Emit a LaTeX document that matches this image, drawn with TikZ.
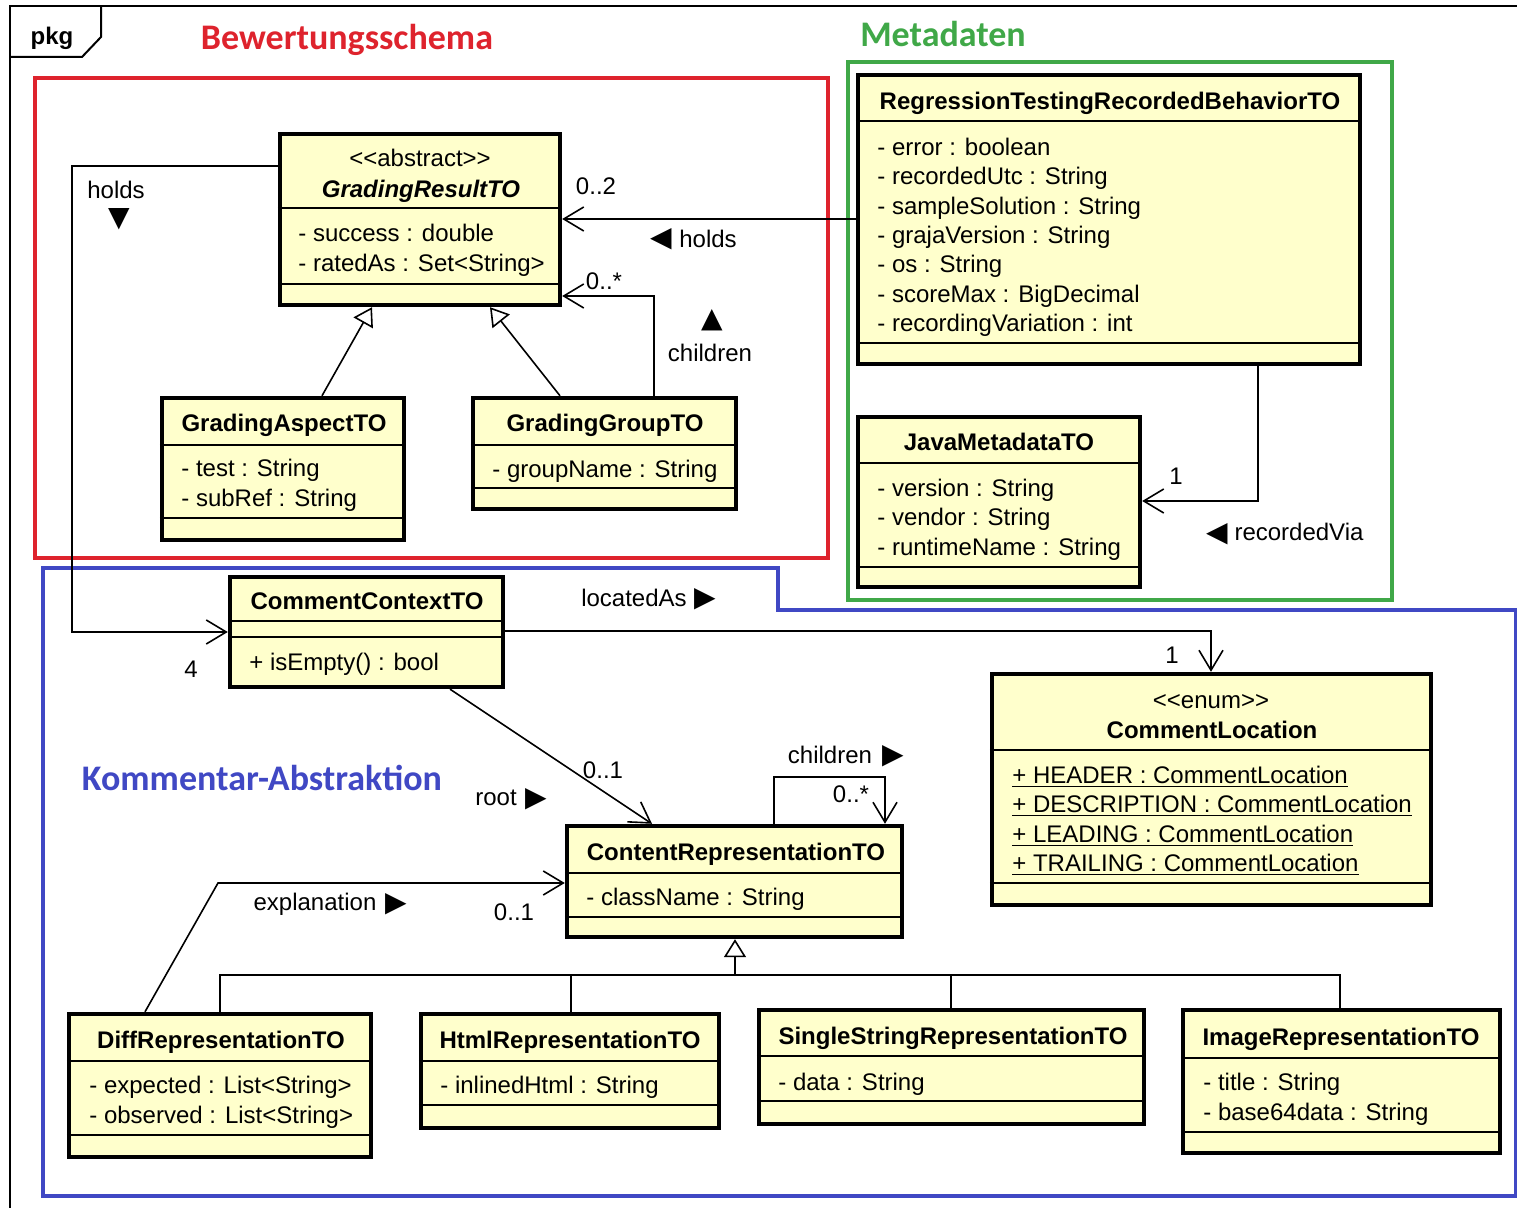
\documentclass[tikz,border=0pt]{standalone}
\usepackage{fontspec}
\setmainfont{Liberation Sans}
\newfontfamily\titlefont{Carlito}
\newfontfamily\symf{DejaVu Sans}
\usetikzlibrary{arrows.meta, fit, calc}

\definecolor{clsfill}{RGB}{255,255,204}
\definecolor{schemared}{RGB}{222,35,45}
\definecolor{metagreen}{RGB}{64,168,72}
\definecolor{kommblue}{RGB}{64,72,196}

\tikzset{
  cls/.style={draw, line width=2.2pt, fill=clsfill, inner sep=0pt},
  sepline/.style={line width=0.8pt},
  attr/.style={anchor=west, inner sep=0pt, text height=8.6pt, text depth=0pt, font=\fontsize{12}{14}\selectfont},
  lbl/.style={inner sep=0pt, text height=8.6pt, text depth=0pt, font=\fontsize{12}{14}\selectfont},
  cname/.style={lbl, font=\fontsize{12}{14}\selectfont\bfseries},
  cnamei/.style={lbl, font=\fontsize{12}{14}\selectfont\bfseries\itshape},
  tri/.style={inner sep=0pt, text height=10pt, text depth=0pt, font=\fontsize{14}{14}\selectfont\symf},
  assoc/.style={line width=0.8pt, -{Straight Barb[length=10pt,width=12pt]}},
  gen/.style={line width=0.8pt, -{Triangle[open,length=9pt,width=11pt,fill=white]}},
  genline/.style={line width=0.8pt},
  grouptitle/.style={inner sep=0pt, font=\fontsize{18}{20}\selectfont\titlefont\bfseries},
}

\begin{document}
\begin{tikzpicture}[x=0.5pt, y=-0.5pt]
      \useasboundingbox (0,0) rectangle (1517,1208);

      % package frame
      \draw[line width=1pt] (10,1208) -- (10,6) -- (1517,6);
      \draw[line width=1pt] (10,57) -- (82,57) -- (101,37) -- (101,6);
      \node[cname] (pkg) at (52,36) {pkg};

      % groups
      \draw[schemared, line width=2pt] (35,78) rectangle (828,558);
      \draw[metagreen, line width=2pt] (848,62) rectangle (1392,600);
      \draw[kommblue, line width=2pt] (43,568) -- (778,568) -- (778,610) -- (1516,610) -- (1516,1196) -- (43,1196) -- cycle;
      \node[grouptitle, text=schemared] (tschema) at (347,40) {Bewertungsschema};
      \node[grouptitle, text=metagreen] (tmeta) at (943,34) {Metadaten};
      \node[grouptitle, text=kommblue] (tkomm) at (262,778) {Kommentar-Abstraktion};

      % GradingResultTO
      \node[cls, fit={(280,134) (560,305)}] (gr) {};
      \draw[sepline] (gr.west |- 0,208) -- (gr.east |- 0,208);
      \draw[sepline] (gr.west |- 0,284) -- (gr.east |- 0,284);
      \node[lbl] (gr-st) at (420,158) {<{}<abstract>{}>};
      \node[cnamei] (gr-n) at (421,189) {GradingResultTO};
      \node[attr] (gr-a1) at (298,233) {- success : double};
      \node[attr] (gr-a2) at (298,263) {- ratedAs : Set<String>};

      % GradingAspectTO
      \node[cls, fit={(162,398) (404,540)}] (ga) {};
      \draw[sepline] (ga.west |- 0,445) -- (ga.east |- 0,445);
      \draw[sepline] (ga.west |- 0,518) -- (ga.east |- 0,518);
      \node[cname] (ga-n) at (284,423) {GradingAspectTO};
      \node[attr] (ga-a1) at (181,468) {- test : String};
      \node[attr] (ga-a2) at (181,498) {- subRef : String};

      % GradingGroupTO
      \node[cls, fit={(473,398) (736,509)}] (gg) {};
      \draw[sepline] (gg.west |- 0,445) -- (gg.east |- 0,445);
      \draw[sepline] (gg.west |- 0,488) -- (gg.east |- 0,488);
      \node[cname] (gg-n) at (605,423) {GradingGroupTO};
      \node[attr] (gg-a1) at (492,469) {- groupName : String};

      % RegressionTestingRecordedBehaviorTO
      \node[cls, fit={(858,75) (1360,364)}] (rt) {};
      \draw[sepline] (rt.west |- 0,121) -- (rt.east |- 0,121);
      \draw[sepline] (rt.west |- 0,343) -- (rt.east |- 0,343);
      \node[cname] (rt-n) at (1110,101) {RegressionTestingRecordedBehaviorTO};
      \node[attr] (rt-a1) at (877,147) {- error : boolean};
      \node[attr] (rt-a2) at (877,176) {- recordedUtc : String};
      \node[attr] (rt-a3) at (877,206) {- sampleSolution : String};
      \node[attr] (rt-a4) at (877,235) {- grajaVersion : String};
      \node[attr] (rt-a5) at (877,264) {- os : String};
      \node[attr] (rt-a6) at (877,294) {- scoreMax : BigDecimal};
      \node[attr] (rt-a7) at (877,323) {- recordingVariation : int};

      % JavaMetadataTO
      \node[cls, fit={(858,417) (1140,587)}] (jm) {};
      \draw[sepline] (jm.west |- 0,463) -- (jm.east |- 0,463);
      \draw[sepline] (jm.west |- 0,567) -- (jm.east |- 0,567);
      \node[cname] (jm-n) at (999,442) {JavaMetadataTO};
      \node[attr] (jm-a1) at (877,488) {- version : String};
      \node[attr] (jm-a2) at (877,517) {- vendor : String};
      \node[attr] (jm-a3) at (877,547) {- runtimeName : String};

      % CommentContextTO
      \node[cls, fit={(230,577) (503,687)}] (cc) {};
      \draw[sepline] (cc.west |- 0,621) -- (cc.east |- 0,621);
      \draw[sepline] (cc.west |- 0,637) -- (cc.east |- 0,637);
      \node[cname] (cc-n) at (367,601) {CommentContextTO};
      \node[attr] (cc-m1) at (249,662) {+ isEmpty() : bool};

      % CommentLocation
      \node[cls, fit={(992,674) (1431,905)}] (cl) {};
      \draw[sepline] (cl.west |- 0,750) -- (cl.east |- 0,750);
      \draw[sepline] (cl.west |- 0,883) -- (cl.east |- 0,883);
      \node[lbl] (cl-st) at (1211,700) {<{}<enum>{}>};
      \node[cname] (cl-n) at (1212,730) {CommentLocation};
      \node[attr] (cl-l1) at (1012,775) {\underline{+ HEADER : CommentLocation}};
      \node[attr] (cl-l2) at (1012,804) {\underline{+ DESCRIPTION : CommentLocation}};
      \node[attr] (cl-l3) at (1012,834) {\underline{+ LEADING : CommentLocation}};
      \node[attr] (cl-l4) at (1012,863) {\underline{+ TRAILING : CommentLocation}};

      % ContentRepresentationTO
      \node[cls, fit={(567,826) (902,937)}] (cr) {};
      \draw[sepline] (cr.west |- 0,873) -- (cr.east |- 0,873);
      \draw[sepline] (cr.west |- 0,917) -- (cr.east |- 0,917);
      \node[cname] (cr-n) at (736,852) {ContentRepresentationTO};
      \node[attr] (cr-a1) at (586,897) {- className : String};

      % DiffRepresentationTO
      \node[cls, fit={(69,1014) (371,1157)}] (dr) {};
      \draw[sepline] (dr.west |- 0,1061) -- (dr.east |- 0,1061);
      \draw[sepline] (dr.west |- 0,1135) -- (dr.east |- 0,1135);
      \node[cname] (dr-n) at (221,1040) {DiffRepresentationTO};
      \node[attr] (dr-a1) at (89,1085) {- expected : List<String>};
      \node[attr] (dr-a2) at (89,1115) {- observed : List<String>};

      % HtmlRepresentationTO
      \node[cls, fit={(421,1014) (719,1128)}] (hr) {};
      \draw[sepline] (hr.west |- 0,1061) -- (hr.east |- 0,1061);
      \draw[sepline] (hr.west |- 0,1105) -- (hr.east |- 0,1105);
      \node[cname] (hr-n) at (570,1040) {HtmlRepresentationTO};
      \node[attr] (hr-a1) at (440,1085) {- inlinedHtml : String};

      % SingleStringRepresentationTO
      \node[cls, fit={(759,1010) (1144,1124)}] (ss) {};
      \draw[sepline] (ss.west |- 0,1056) -- (ss.east |- 0,1056);
      \draw[sepline] (ss.west |- 0,1101) -- (ss.east |- 0,1101);
      \node[cname] (ss-n) at (953,1036) {SingleStringRepresentationTO};
      \node[attr] (ss-a1) at (778,1082) {- data : String};

      % ImageRepresentationTO
      \node[cls, fit={(1183,1010) (1500,1153)}] (ir) {};
      \draw[sepline] (ir.west |- 0,1058) -- (ir.east |- 0,1058);
      \draw[sepline] (ir.west |- 0,1132) -- (ir.east |- 0,1132);
      \node[cname] (ir-n) at (1341,1037) {ImageRepresentationTO};
      \node[attr] (ir-a1) at (1203,1082) {- title : String};
      \node[attr] (ir-a2) at (1203,1112) {- base64data : String};

      % result holds context
      \draw[assoc] (gr.west |- 0,166) -| (72,632) -- (cc.west |- 0,632);
      \node[lbl] (l-holds1) at (116,190) {holds};
      \node[tri] (t-holds1) at (119,217) {▼};
      \node[lbl] (m-four) at (191,669) {4};

      % behavior holds result
      \draw[assoc] (rt.west |- 0,219) -- (gr.east |- 0,219);
      \node[lbl] (m-zt) at (596,186) {0..2};
      \node[tri] (t-holds2) at (661,237) {◀};
      \node[lbl] (l-holds2) at (708,239) {holds};

      % group children
      \draw[assoc] (gg.north -| 654,0) |- (gr.east |- 0,296);
      \node[lbl] (m-zs1) at (604,281) {0..*};
      \node[tri] (t-child1) at (712,318) {▲};
      \node[lbl] (l-child1) at (710,353) {children};

      % aspect and group to result
      \draw[gen] (ga.north -| 322,0) -- (gr.south -| 372,0);
      \draw[gen] (gg.north -| 560,0) -- (gr.south -| 490,0);

      % behavior recorded via java
      \draw[assoc] (rt.south -| 1258,0) |- (jm.east |- 0,501);
      \node[lbl] (m-one1) at (1176,476) {1};
      \node[tri] (t-rec) at (1217,532) {◀};
      \node[lbl] (l-rec) at (1299,532) {recordedVia};

      % context located as
      \draw[assoc] (cc.east |- 0,631) -| (cl.north -| 1211,0);
      \node[lbl] (l-loc) at (634,598) {locatedAs};
      \node[tri] (t-loc) at (705,597) {▶};
      \node[lbl] (m-one2) at (1172,655) {1};

      % context root
      \draw[assoc] (cc.south -| 450,0) -- (cr.north -| 652,0);
      \node[lbl] (m-zo1) at (603,770) {0..1};
      \node[lbl] (l-root) at (496,797) {root};
      \node[tri] (t-root) at (536,796) {▶};

      % representation children
      \draw[assoc] (cr.north -| 774,0) |- (885,777) -- (cr.north -| 885,0);
      \node[lbl] (l-child2) at (830,755) {children};
      \node[tri] (t-child2) at (893,753) {▶};
      \node[lbl] (m-zs2) at (851,794) {0..*};

      % diff explanation
      \draw[assoc] (dr.north -| 145,0) -- (218,883) -- (cr.west |- 0,883);
      \node[lbl] (l-expl) at (315,902) {explanation};
      \node[tri] (t-expl) at (396,901) {▶};
      \node[lbl] (m-zo2) at (514,912) {0..1};

      % representations to content representation
      \draw[gen] (735,975) -- (cr.south -| 735,0);
      \draw[genline] (dr.north -| 220,0) -- (220,975) -- (1340,975) -- (ir.north -| 1340,0);
      \draw[genline] (571,975) -- (hr.north -| 571,0);
      \draw[genline] (951,975) -- (ss.north -| 951,0);
    \end{tikzpicture}
\end{document}
